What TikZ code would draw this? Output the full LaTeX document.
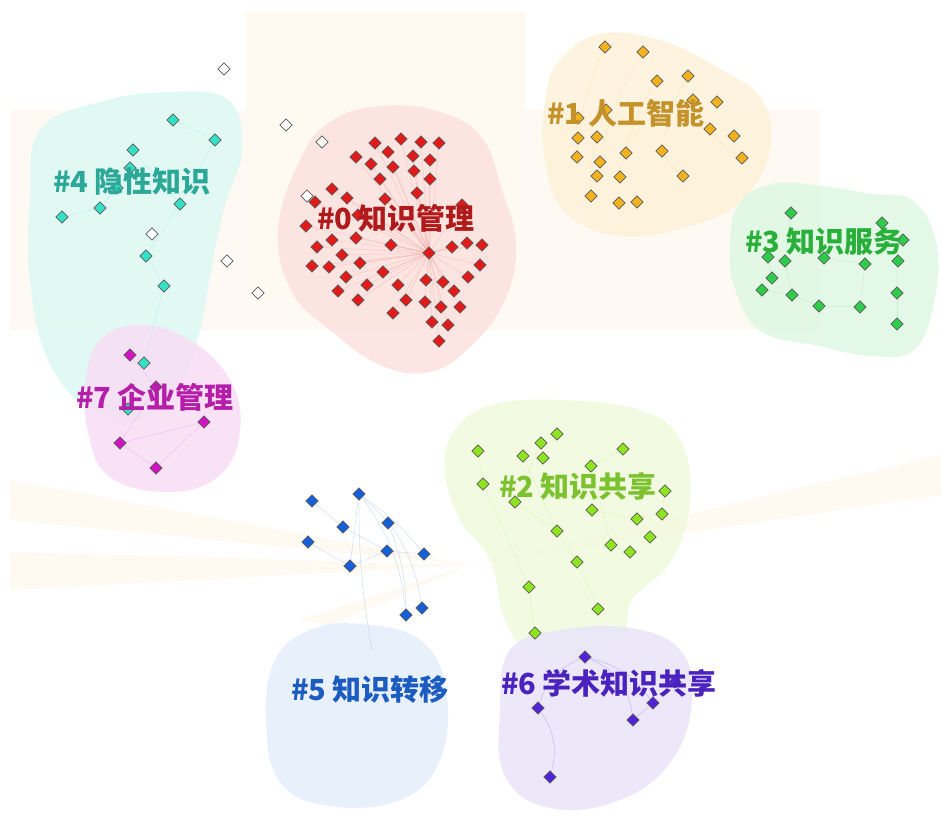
\documentclass[tikz,border=0pt]{standalone}
\usepackage{fontspec}
\newfontfamily\cjk{Noto Sans CJK SC}
\usetikzlibrary{shapes.geometric}
\pgfdeclarelayer{bg}\pgfdeclarelayer{edges}
\pgfsetlayers{bg,edges,main}
\definecolor{bgbeige}{HTML}{FEF9F1}
\definecolor{blobR}{HTML}{FCE1DE}
\definecolor{blobO}{HTML}{FDF1D9}
\definecolor{blobG}{HTML}{DFF7E3}
\definecolor{blobC}{HTML}{DCF8F3}
\definecolor{blobM}{HTML}{F8DDF5}
\definecolor{blobL}{HTML}{F0FADC}
\definecolor{blobB}{HTML}{E4EEFC}
\definecolor{blobP}{HTML}{E9E4FA}
\definecolor{labR}{HTML}{B01A1A}
\definecolor{labO}{HTML}{C4922A}
\definecolor{labG}{HTML}{28B03A}
\definecolor{labC}{HTML}{2BA898}
\definecolor{labM}{HTML}{B51EA8}
\definecolor{labL}{HTML}{7CC22E}
\definecolor{labB}{HTML}{1C5BC0}
\definecolor{labP}{HTML}{4A22BE}
\definecolor{nR}{HTML}{E31A1A}
\definecolor{nO}{HTML}{F2B21E}
\definecolor{nG}{HTML}{2FCB4A}
\definecolor{nC}{HTML}{34E0C6}
\definecolor{nM}{HTML}{D213C4}
\definecolor{nL}{HTML}{8EE41E}
\definecolor{nB}{HTML}{1560D8}
\definecolor{nP}{HTML}{5224D8}
\tikzset{
  dnode/.style={diamond, aspect=1, minimum size=12.5pt, inner sep=0pt, draw=black!65, line width=0.7pt},
  rnode/.style={dnode, fill=nR},
  onode/.style={dnode, fill=nO},
  gnode/.style={dnode, fill=nG},
  cnode/.style={dnode, fill=nC},
  mnode/.style={dnode, fill=nM},
  lnode/.style={dnode, fill=nL},
  bnode/.style={dnode, fill=nB},
  pnode/.style={dnode, fill=nP},
  wnode/.style={dnode, fill=white},
  lab/.style={font=\cjk\bfseries\fontsize{29}{32}\selectfont, inner sep=0pt},
  cedge/.style={line width=0.5pt, opacity=0.3},
  blob/.style={draw=none, fill opacity=0.85}
}
\begin{document}
\begin{tikzpicture}[x=1pt,y=-1pt]
\useasboundingbox (0,0) rectangle (941,825);
\begin{pgfonlayer}{bg}
\fill[white] (0,0) rectangle (941,825);
\fill[bgbeige] (246,12) rectangle (525,300);
\fill[bgbeige, opacity=0.8] (10,110) rectangle (820,330);
\fill[bgbeige] (470,565) -- (10,480) -- (10,520) -- cycle;
\fill[bgbeige] (470,565) -- (10,552) -- (10,590) -- cycle;
\fill[bgbeige] (470,565) -- (941,455) -- (941,495) -- cycle;
\fill[bgbeige] (470,565) -- (300,620) -- (330,625) -- cycle;
% blobs
\fill[blobC, blob] plot[smooth cycle, tension=0.7] coordinates {(40,130) (100,102) (170,92) (228,100) (242,150) (225,205) (212,265) (200,330) (180,385) (140,420) (90,410) (48,360) (30,280) (30,200)};
\fill[blobM, blob] plot[smooth cycle, tension=0.7] coordinates {(100,340) (140,325) (190,340) (230,380) (240,430) (220,475) (170,492) (110,477) (88,432) (86,380)};
\fill[blobR, blob] plot[smooth cycle, tension=0.7] coordinates {(300,160) (330,122) (380,106) (440,112) (482,138) (502,190) (516,245) (505,300) (472,345) (430,372) (380,365) (330,330) (292,292) (278,230)};
\fill[blobO, blob] plot[smooth cycle, tension=0.7] coordinates {(560,60) (600,34) (660,40) (722,70) (762,100) (770,150) (742,200) (690,226) (620,236) (565,212) (545,160) (545,100)};
\fill[blobG, blob] plot[smooth cycle, tension=0.7] coordinates {(738,205) (772,184) (822,186) (872,194) (912,200) (936,242) (934,302) (914,350) (870,356) (820,346) (762,332) (736,292) (730,250)};
\fill[blobL, blob] plot[smooth cycle, tension=0.7] coordinates {(455,430) (492,405) (560,400) (640,410) (680,440) (690,500) (672,560) (632,600) (622,640) (580,656) (530,650) (505,620) (490,560) (460,520) (445,470)};
\fill[blobB, blob] plot[smooth cycle, tension=0.7] coordinates {(275,660) (310,630) (360,624) (420,640) (446,690) (440,760) (400,800) (330,806) (280,782) (266,720)};
\fill[blobP, blob] plot[smooth cycle, tension=0.7] coordinates {(510,650) (560,630) (630,628) (680,650) (692,700) (672,760) (620,800) (550,808) (505,776) (500,710)};
\end{pgfonlayer}

% nodes
\node[rnode] (rhub) at (429,253) {};
\foreach \x/\y [count=\i] in {375/143, 401/139, 421/142, 439/143, 356/157, 388/152, 413/156, 430/160, 371/164, 393/167, 414/171, 430/179, 380/179, 332/189, 347/198, 385/199, 417/193, 315/202, 358/215, 462/205, 306/226, 356/238, 332/240, 391/245, 452/247, 467/243, 482/245, 317/247, 342/255, 360/263, 312/266, 329/267, 383/272, 480/265, 346/277, 367/285, 398/285, 426/280, 443/282, 468/277, 454/291, 338/291, 358/300, 406/300, 425/302, 441/307, 460/307, 393/313, 432/322, 448/325, 439/341}
  \node[rnode] (r\i) at (\x,\y) {};
\foreach \x/\y [count=\i] in {605/47, 643/52, 657/81, 688/76, 717/102, 693/100, 578/118, 606/110, 710/129, 734/136, 578/138, 597/137, 577/157, 600/162, 626/153, 662/151, 742/158, 597/176, 620/177, 683/176, 591/196, 619/203, 637/202}
  \node[onode] (o\i) at (\x,\y) {};
\foreach \x/\y [count=\i] in {791/213, 882/223, 903/240, 768/257, 785/261, 824/258, 865/264, 898/261, 772/278, 762/290, 792/295, 819/306, 860/307, 897/293, 897/324}
  \node[gnode] (g\i) at (\x,\y) {};
\foreach \x/\y [count=\i] in {173/120, 215/140, 133/150, 130/168, 117/188, 180/204, 100/208, 62/217, 146/256, 164/286, 144/363, 128/409}
  \node[cnode] (c\i) at (\x,\y) {};
\foreach \x/\y [count=\i] in {130/355, 156/387, 204/422, 120/443, 156/468}
  \node[mnode] (m\i) at (\x,\y) {};
\foreach \x/\y [count=\i] in {224/69, 286/125, 322/142, 307/196, 152/234, 227/261, 258/293}
  \node[wnode] (w\i) at (\x,\y) {};
\foreach \x/\y [count=\i] in {312/501, 359/494, 343/527, 388/523, 308/542, 387/551, 424/554, 350/566, 406/615, 422/608}
  \node[bnode] (b\i) at (\x,\y) {};
\foreach \x/\y [count=\i] in {478/451, 557/434, 541/443, 523/456, 543/458, 623/449, 591/466, 483/484, 515/502, 665/491, 592/510, 637/519, 662/514, 557/531, 650/537, 611/545, 630/552, 577/562, 529/587, 598/609, 535/633}
  \node[lnode] (l\i) at (\x,\y) {};
\foreach \x/\y [count=\i] in {585/657, 538/708, 653/703, 633/720, 550/777, 675/682}
  \node[pnode] (p\i) at (\x,\y) {};
\coordinate (bend) at (372,650);

% edges
\begin{pgfonlayer}{edges}
\foreach \i in {1,...,51} \draw[cedge, nR!60, opacity=0.25] (rhub) -- (r\i);
\foreach \a/\b in {1/13, 2/14, 3/15, 4/16, 7/11, 9/17, 12/21, 15/19, 16/20, 6/9}
  \draw[cedge, nO!60] (o\a) to[bend right=10] (o\b);
\foreach \a/\b in {1/5, 4/9, 5/11, 6/7, 7/13, 11/12, 12/13, 8/14, 14/15, 2/3, 10/11}
  \draw[cedge, nG!60] (g\a) -- (g\b);
\foreach \a/\b in {1/2, 3/6, 6/9, 9/10, 10/11, 5/7, 7/8, 2/6}
  \draw[cedge, nC!70] (c\a) -- (c\b);
\foreach \a/\b in {4/5, 5/3, 4/3, 2/4, 1/2}
  \draw[cedge, nM!60] (m\a) -- (m\b);
\foreach \a/\b in {1/8, 2/3, 3/9, 9/14, 14/18, 18/20, 8/19, 19/21, 7/16, 16/17, 10/13, 11/12, 4/14, 6/7}
  \draw[cedge, nL!60] (l\a) -- (l\b);
\draw[cedge, nB!50, opacity=0.4] (b2) to[bend left=15] (b9);
\draw[cedge, nB!50, opacity=0.4] (b2) to[bend left=20] (b10);
\draw[cedge, nB!50, opacity=0.4] (b2) to[bend left=8] (b7);
\draw[cedge, nB!50, opacity=0.4] (b4) to[bend left=10] (b9);
\draw[cedge, nB!50, opacity=0.4] (b1) -- (b3) -- (b6);
\draw[cedge, nB!50, opacity=0.4] (b5) -- (b8) -- (b6) -- (b7);
\draw[cedge, nB!50, opacity=0.4] (b2) -- (b8);
\draw[cedge, nB!50, opacity=0.4] (b2) to[bend right=5] (bend);
\draw[cedge, nP!60, opacity=0.45] (p1) to[bend right=25] (p2);
\draw[cedge, nP!60, opacity=0.45] (p2) to[bend left=25] (p5);
\draw[cedge, nP!60, opacity=0.45] (p1) to[bend left=30] (p4);
\draw[cedge, nP!60, opacity=0.45] (p4) -- (p3);
\draw[cedge, nP!60, opacity=0.45] (p1) to[bend left=20] (p3);
\end{pgfonlayer}

% labels
\node[lab, text=labR] (t0) at (396,218) {\#0 知识管理};
\node[lab, text=labO] (t1) at (626,113) {\#1 人工智能};
\node[lab, text=labG] (t3) at (824,241) {\#3 知识服务};
\node[lab, text=labC] (t4) at (132,181) {\#4 隐性知识};
\node[lab, text=labM] (t7) at (155,397) {\#7 企业管理};
\node[lab, text=labL] (t2) at (578,486) {\#2 知识共享};
\node[lab, text=labB] (t5) at (370,690) {\#5 知识转移};
\node[lab, text=labP] (t6) at (609,683) {\#6 学术知识共享};
\end{tikzpicture}
\end{document}
